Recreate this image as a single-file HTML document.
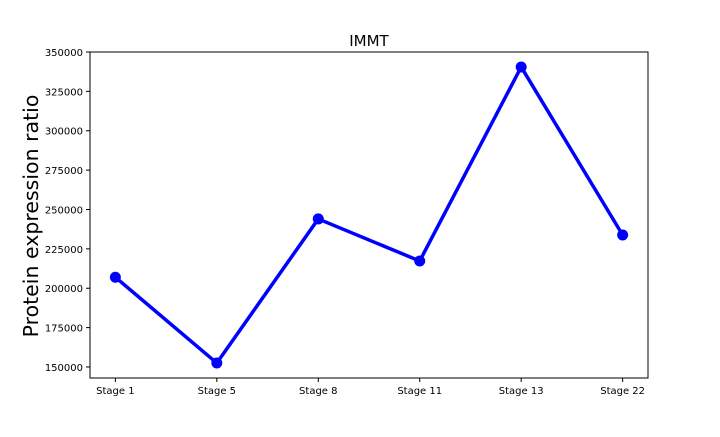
<!DOCTYPE html>
<html><head><meta charset="utf-8"><style>
body{margin:0;background:#fff;width:720px;height:432px;overflow:hidden}
text{font-family:"DejaVu Sans","Liberation Sans",sans-serif;fill:#000}
</style></head><body>
<svg id="chart" width="720" height="432" xmlns="http://www.w3.org/2000/svg"></svg>
<script>
const categories=["Stage 1","Stage 5","Stage 8","Stage 11","Stage 13","Stage 22"];
const values=[207000,152500,244000,217300,340500,233800];
const yTicks=[150000,175000,200000,225000,250000,275000,300000,325000,350000];
const L=90,R=648,T=52,B=378;
const yMin=143000,yMax=350000;
const xScale=i=>L+(i+0.25)/(categories.length-0.5)*(R-L);
const yScale=v=>B-(v-yMin)/(yMax-yMin)*(B-T);
const svg=document.getElementById('chart');
const NS="http://www.w3.org/2000/svg";
function mk(tag,attrs,parent){const e=document.createElementNS(NS,tag);for(const k in attrs)e.setAttribute(k,attrs[k]);(parent||svg).appendChild(e);return e;}
const frame=mk('rect',{x:L,y:T,width:R-L,height:B-T,fill:'none',stroke:'#000','stroke-width':1});


yTicks.forEach(v=>{const y=yScale(v);
 const t=mk('line',{x1:L-4,x2:L,y1:y,y2:y,stroke:'#000'});
 
 
 const l=mk('text',{x:L-7,y:y+4,'text-anchor':'end','font-size':10});l.textContent=v;
 
 
});
categories.forEach((c,i)=>{const x=xScale(i);
 const t=mk('line',{x1:x,x2:x,y1:B,y2:B+4,stroke:'#000'});
 
 
 const l=mk('text',{x:x,y:B+16,'text-anchor':'middle','font-size':10});l.textContent=c;
 
 
});
const line=mk('polyline',{points:values.map((v,i)=>xScale(i)+','+yScale(v)).join(' '),fill:'none',stroke:'#0000ff','stroke-width':3.5,'stroke-linejoin':'round'});


values.forEach((v,i)=>{const p=mk('circle',{cx:xScale(i),cy:yScale(v),r:5.5,fill:'#0000ff'});
 
 
});
const title=mk('text',{x:(L+R)/2,y:46,'text-anchor':'middle','font-size':15});title.textContent='IMMT';


const yl=mk('text',{x:0,y:0,'text-anchor':'middle','font-size':20.5,transform:'translate(38,216) rotate(-90)'});yl.textContent='Protein expression ratio';


</script>
</body></html>
